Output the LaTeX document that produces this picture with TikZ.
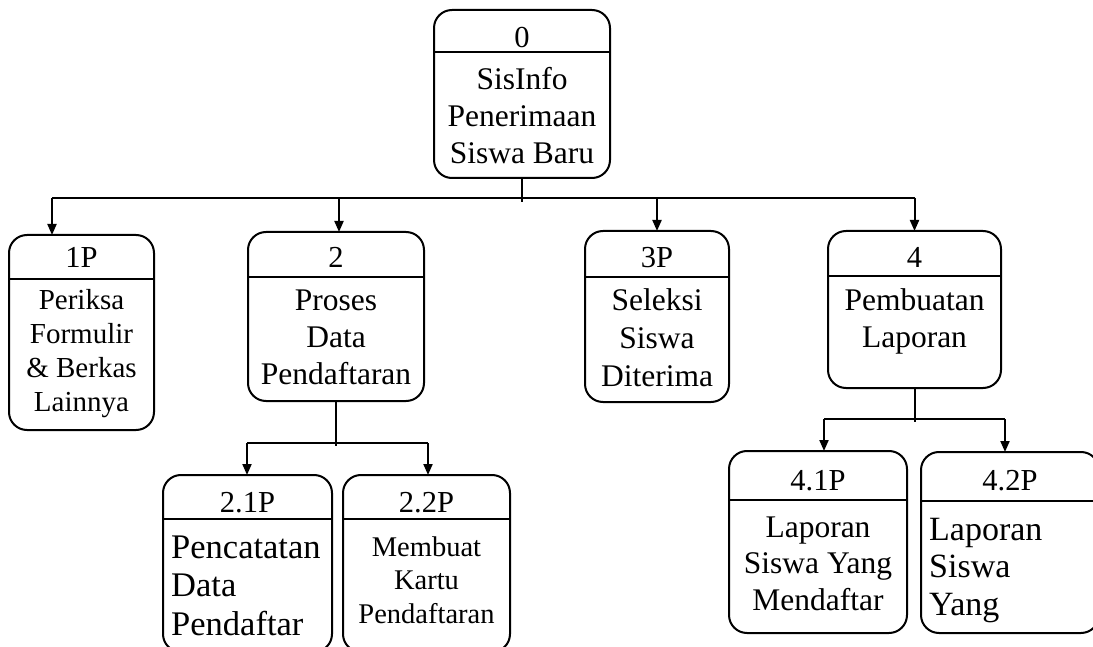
\documentclass[tikz,border=0pt]{standalone}
\usepackage{fontspec}
\setmainfont{Liberation Serif}
\usetikzlibrary{arrows.meta}

% one line of body text per node, baselines spaced evenly
% #1 name prefix, #2 anchor, #3 x, #4 first baseline, #5 line skip, #6 font size, #7 lines
\newcommand\proclines[7]{%
  \foreach \ptext [count=\pk] in {#7}{%
    \node[txt, anchor=#2, font=\fontsize{#6}{#6}\selectfont] (#1-\pk) at ({#3},{#4+(\pk-1)*#5}) {\ptext};
  }%
}

\tikzset{
  proc/.style={draw, line width=2pt, rounded corners=18pt, inner sep=0pt, outer sep=0pt},
  divider/.style={line width=2pt},
  flow/.style={line width=2pt},
  arr/.style={line width=2pt, -{Triangle[length=11pt,width=9pt]}},
  hdr/.style={anchor=base, inner sep=0pt, font=\fontsize{30.5}{30.5}\selectfont},
  txt/.style={inner sep=0pt}
}

\begin{document}
\begin{tikzpicture}[x=1pt, y=-1pt]
\useasboundingbox (0,0) rectangle (1093,647);

% process boxes
\node[proc, minimum width=176pt, minimum height=168pt] (b0)  at (522,94) {};
\node[proc, minimum width=145pt, minimum height=195pt] (b1)  at (81.5,332.5) {};
\node[proc, minimum width=176pt, minimum height=169pt] (b2)  at (336,316.5) {};
\node[proc, minimum width=144pt, minimum height=171pt] (b3)  at (657,316.5) {};
\node[proc, minimum width=173pt, minimum height=157pt] (b4)  at (914.5,309.5) {};
\node[proc, minimum width=169pt, minimum height=177pt] (b21) at (247.5,563.5) {};
\node[proc, minimum width=167pt, minimum height=177pt] (b22) at (426.5,563.5) {};
\node[proc, minimum width=178pt, minimum height=182pt] (b41) at (818,542) {};
\node[proc, minimum width=178pt, minimum height=181pt] (b42) at (1010,542.5) {};

% header dividers
\draw[divider] (b0.west  |- 0,52)  -- (b0.east  |- 0,52);
\draw[divider] (b1.west  |- 0,279) -- (b1.east  |- 0,279);
\draw[divider] (b2.west  |- 0,277) -- (b2.east  |- 0,277);
\draw[divider] (b3.west  |- 0,277) -- (b3.east  |- 0,277);
\draw[divider] (b4.west  |- 0,276) -- (b4.east  |- 0,276);
\draw[divider] (b21.west |- 0,519) -- (b21.east |- 0,519);
\draw[divider] (b22.west |- 0,519) -- (b22.east |- 0,519);
\draw[divider] (b41.west |- 0,500) -- (b41.east |- 0,500);
\draw[divider] (b42.west |- 0,501) -- (b42.east |- 0,501);

% header numbers
\node[hdr] (h0)  at (522,48)    {0};
\node[hdr] (h1)  at (81.5,268)  {1P};
\node[hdr] (h2)  at (336,268)   {2};
\node[hdr] (h3)  at (657,268)   {3P};
\node[hdr] (h4)  at (914.5,268) {4};
\node[hdr] (h21) at (247.5,512) {2.1P};
\node[hdr] (h22) at (426.5,512) {2.2P};
\node[hdr] (h41) at (818,490)   {4.1P};
\node[hdr] (h42) at (1010,490)  {4.2P};

% process names
\proclines{t0}{base}{522}{90}{37}{31.5}{SisInfo,Penerimaan,Siswa Baru}
\proclines{t1}{base}{81.5}{309}{34.2}{29}{Periksa,Formulir,\& Berkas,Lainnya}
\proclines{t2}{base}{336}{311}{36.5}{31.5}{Proses,Data,Pendaftaran}
\proclines{t3}{base}{657}{311}{37.5}{31.5}{Seleksi,Siswa,Diterima}
\proclines{t4}{base}{914.5}{311}{36}{31.5}{Pembuatan,Laporan}
\proclines{t21}{base west}{171}{558}{38.5}{34.5}{Pencatatan,Data,Pendaftar}
\proclines{t22}{base}{426.5}{556}{33.5}{28.5}{Membuat,Kartu,Pendaftaran}
\proclines{t41}{base}{818}{537}{36.5}{31.5}{Laporan,Siswa Yang,Mendaftar}
\proclines{t42}{base west}{929}{540}{37.5}{34}{Laporan,Siswa,Yang}

% level 0 -> level 1
\coordinate (k1) at (52,198);
\coordinate (k2) at (339,198);
\coordinate (k3) at (657,198);
\coordinate (k4) at (914.5,198);
\draw[flow] (b0.south) -- ++(0,24);
\draw[flow] (k1) -- (k4);
\draw[arr] (k1) -- (k1 |- b1.north);
\draw[arr] (k2) -- (k2 |- b2.north);
\draw[arr] (k3) -- (k3 |- b3.north);
\draw[arr] (k4) -- (k4 |- b4.north);

% process 2 -> 2.1P, 2.2P
\coordinate (m1) at (247,443);
\coordinate (m2) at (428,443);
\draw[flow] (b2.south) -- ++(0,45);
\draw[flow] (m1) -- (m2);
\draw[arr] (m1) -- (m1 |- b21.north);
\draw[arr] (m2) -- (m2 |- b22.north);

% process 4 -> 4.1P, 4.2P
\coordinate (n1) at (824,419);
\coordinate (n2) at (1005,419);
\draw[flow] (b4.south) -- ++(0,34);
\draw[flow] (n1) -- (n2);
\draw[arr] (n1) -- (n1 |- b41.north);
\draw[arr] (n2) -- (n2 |- b42.north);
\end{tikzpicture}
\end{document}
